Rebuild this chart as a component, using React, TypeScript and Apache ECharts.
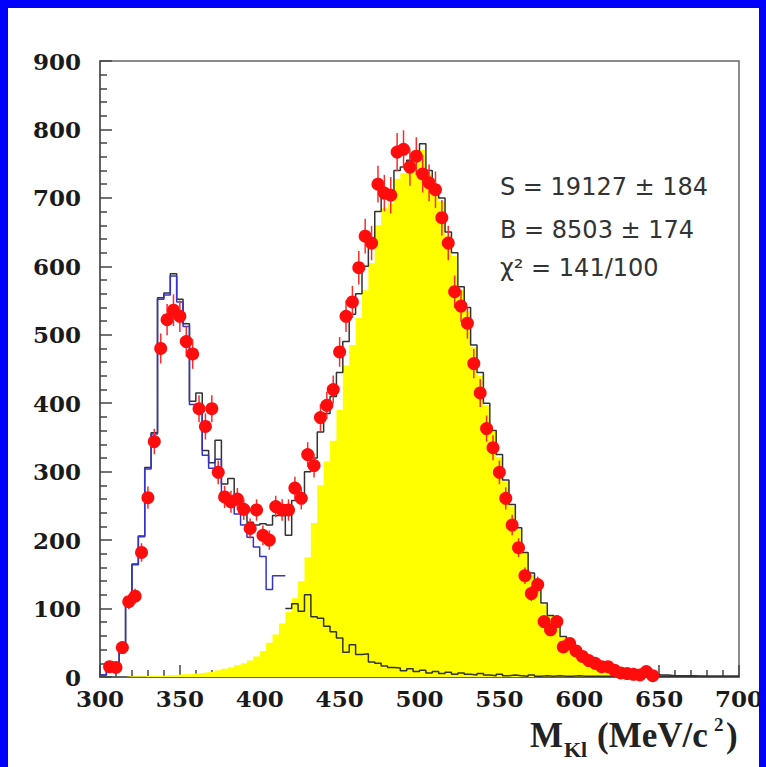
import React, { useEffect, useRef } from "react";
import * as echarts from "echarts";

// Binning of the invariant-mass histograms (MeV/c^2)
const BIN_WIDTH = 4;
const MASS_MIN = 300;
const MASS_MAX = 700;
const FIRST_POINT_CENTER = 306;
const BLUE_BINS = 29; // background drawn in blue up to 416 MeV/c^2

// Fitted signal component (filled), one value per 4 MeV bin from 300 to 700
const signal = [
  0, 0, 0, 0, 1, 1, 1, 2, 2, 2,
  3, 3, 4, 4, 5, 6, 7, 8, 10, 12,
  14, 17, 20, 24, 30, 38, 50, 62, 78, 95,
  115, 140, 175, 225, 280, 315, 345, 390, 455, 485,
  525, 565, 605, 660, 685, 692, 728, 736, 744, 752,
  770, 734, 710, 695, 645, 615, 565, 535, 482, 440,
  397, 358, 321, 286, 249, 216, 181, 149, 127, 106,
  89, 73, 58, 49, 39, 33, 27, 21, 17, 14,
  11, 8, 6, 5, 4, 3, 3, 2, 2, 1,
  1, 1, 1, 1, 0, 0, 0, 0, 0, 0,
];

// Background component
const background = [
  3, 12, 14, 43, 104, 164, 205, 304, 355, 552,
  558, 586, 548, 512, 398, 392, 324, 305, 318, 270,
  262, 238, 222, 204, 190, 176, 128, 148, 148, 100,
  107, 96, 120, 88, 86, 74, 66, 57, 36, 47,
  33, 34, 22, 20, 16, 14, 13, 9, 12, 8,
  10, 6, 8, 5, 7, 4, 6, 4, 3, 5,
  3, 2, 4, 2, 3, 2, 1, 3, 1, 2,
  1, 2, 1, 1, 2, 1, 1, 1, 1, 1,
  1, 1, 1, 1, 1, 1, 1, 1, 1, 1,
  1, 1, 1, 1, 1, 1, 1, 1, 1, 1,
];

// Total fit (signal + background)
const total = [
  3, 12, 14, 43, 105, 165, 206, 306, 357, 554,
  561, 589, 552, 516, 403, 415, 331, 313, 346, 282,
  290, 262, 240, 226, 222, 224, 222, 236, 236, 207,
  258, 262, 300, 320, 358, 385, 410, 445, 490, 530,
  560, 600, 630, 680, 700, 705, 740, 745, 755, 760,
  779, 740, 718, 700, 650, 620, 570, 540, 485, 445,
  400, 360, 325, 288, 252, 218, 182, 152, 128, 108,
  90, 74, 59, 50, 40, 34, 28, 22, 18, 15,
  12, 9, 7, 6, 5, 4, 4, 3, 3, 2,
  2, 2, 2, 1, 1, 1, 1, 1, 1, 1,
];

// Measured events per bin, bin centres from 306 MeV/c^2 upward
const dataCounts = [
  15, 14, 43, 110, 118, 182, 262, 344, 480, 522,
  536, 527, 490, 472, 392, 366, 392, 299, 263, 256,
  260, 245, 217, 244, 207, 200, 249, 244, 244, 276,
  261, 325, 309, 379, 397, 420, 475, 527, 548, 598,
  644, 634, 720, 707, 704, 767, 771, 745, 761, 735,
  722, 712, 671, 634, 563, 542, 517, 458, 415, 363,
  335, 299, 261, 222, 189, 148, 122, 135, 81, 69,
  81, 44, 49, 38, 30, 24, 20, 15, 15, 10,
  6, 5, 4, 3, 8, 2,
];

const yTickValues = [0, 100, 200, 300, 400, 500, 600, 700, 800, 900];
const fitLines = ["S = 19127 \u00b1 184", "B = 8503 \u00b1 174", "\u03c7\u00b2 = 141/100"];

// Turns per-bin contents into step-line vertices (left edge of each bin + closing edge)
function histogramSteps(values: number[], firstEdge: number): number[][] {
  const pts = values.map((v, i) => [firstEdge + i * BIN_WIDTH, v]);
  pts.push([firstEdge + values.length * BIN_WIDTH, values[values.length - 1]]);
  return pts;
}

const points = dataCounts.map((v, i) => [FIRST_POINT_CENTER + i * BIN_WIDTH, v]);

export default function App() {
  const ref = useRef<HTMLDivElement>(null);

  useEffect(() => {
    if (!ref.current) return;
    const chart = echarts.init(ref.current, undefined, { renderer: "svg" });

    const tickStyle = { color: "#444", width: 1.5 };
    const labelFont = {
      color: "#1a1a1a",
      fontFamily: "DejaVu Serif",
      fontWeight: "bold" as const,
      fontSize: 23,
    };
    const titleFont = (size: number) => `bold ${size}px "Liberation Serif"`;

    chart.setOption({
      animation: false,
      backgroundColor: "#ffffff",
      grid: {
        left: 100,
        top: 61,
        right: 26,
        bottom: 90,
        show: true,
        borderColor: "#666",
        borderWidth: 1.5,
        backgroundColor: "transparent",
      },
      xAxis: {
        type: "value",
        min: MASS_MIN,
        max: MASS_MAX,
        interval: 50,
        axisLine: { lineStyle: { color: "#555", width: 1.5 } },
        axisTick: { inside: true, length: 12, lineStyle: tickStyle },
        minorTick: { show: true, splitNumber: 5, length: 7, lineStyle: tickStyle },
        splitLine: { show: false },
        minorSplitLine: { show: false },
        axisLabel: { ...labelFont, margin: 10, showMinLabel: true, showMaxLabel: true },
      },
      yAxis: {
        type: "value",
        min: yTickValues[0],
        max: yTickValues[yTickValues.length - 1],
        interval: 100,
        axisLine: { show: true, lineStyle: { color: "#555", width: 1.5 } },
        axisTick: { inside: true, length: 12, lineStyle: tickStyle },
        minorTick: { show: true, splitNumber: 5, length: 7, lineStyle: tickStyle },
        splitLine: { show: false },
        minorSplitLine: { show: false },
        axisLabel: { ...labelFont, margin: 19 },
      },
      series: [
        {
          name: "signal",
          type: "line",
          step: "end",
          data: histogramSteps(signal, MASS_MIN),
          symbol: "none",
          lineStyle: { width: 0, opacity: 0 },
          areaStyle: { color: "#ffff00", opacity: 1 },
          z: 1,
          silent: true,
        },
        {
          name: "total",
          type: "line",
          step: "end",
          data: histogramSteps(total, MASS_MIN),
          symbol: "none",
          lineStyle: { color: "#333", width: 1.5 },
          z: 3,
          silent: true,
        },
        {
          name: "background low",
          type: "line",
          step: "end",
          data: histogramSteps(background.slice(0, BLUE_BINS), MASS_MIN),
          symbol: "none",
          lineStyle: { color: "#3434c8", width: 1.5 },
          z: 4,
          silent: true,
        },
        {
          name: "background high",
          type: "line",
          step: "end",
          data: histogramSteps(background.slice(BLUE_BINS), MASS_MIN + BLUE_BINS * BIN_WIDTH),
          symbol: "none",
          lineStyle: { color: "#333", width: 1.5 },
          z: 4,
          silent: true,
        },
        {
          name: "data",
          type: "custom",
          data: points,
          encode: { x: 0, y: 1 },
          z: 6,
          silent: true,
          renderItem: (_params: any, api: any) => {
            const x = api.value(0);
            const y = api.value(1);
            const err = Math.sqrt(y);
            const c = api.coord([x, y]);
            const top = api.coord([x, y + err]);
            const bot = api.coord([x, Math.max(0, y - err)]);
            return {
              type: "group",
              children: [
                {
                  type: "line",
                  shape: { x1: c[0], y1: top[1], x2: c[0], y2: bot[1] },
                  style: { stroke: "#ff2a2a", lineWidth: 1.5 },
                },
                {
                  type: "circle",
                  shape: { cx: c[0], cy: c[1], r: 6.5 },
                  style: { fill: "#ff0d0d" },
                },
              ],
            };
          },
        },
      ],
      graphic: [
        { type: "rect", left: 0, top: 0, shape: { width: 766, height: 8 }, style: { fill: "#0000ff" }, z: 10 },
        { type: "rect", left: 0, top: 0, shape: { width: 8, height: 767 }, style: { fill: "#0000ff" }, z: 10 },
        { type: "rect", left: 759, top: 0, shape: { width: 7, height: 767 }, style: { fill: "#0000ff" }, z: 10 },
        ...fitLines.map((t, i) => ({
          type: "text",
          x: 500,
          y: [187, 230, 268][i],
          style: {
            text: t,
            font: '24px "DejaVu Sans"',
            fill: "#333",
            align: "left",
            verticalAlign: "middle",
          },
          z: 10,
        })),
        {
          type: "text",
          x: 530,
          y: 735,
          style: { text: "M", font: titleFont(35), fill: "#222", align: "left", verticalAlign: "middle" },
          z: 10,
        },
        {
          type: "text",
          x: 564,
          y: 749,
          style: { text: "Kl", font: titleFont(22), fill: "#222", align: "left", verticalAlign: "middle" },
          z: 10,
        },
        {
          type: "text",
          x: 597,
          y: 735,
          style: { text: "(MeV/c", font: titleFont(35), fill: "#222", align: "left", verticalAlign: "middle" },
          z: 10,
        },
        {
          type: "text",
          x: 714,
          y: 724,
          style: { text: "2", font: titleFont(19), fill: "#222", align: "left", verticalAlign: "middle" },
          z: 10,
        },
        {
          type: "text",
          x: 726,
          y: 735,
          style: { text: ")", font: titleFont(35), fill: "#222", align: "left", verticalAlign: "middle" },
          z: 10,
        },
      ],
    });

    return () => chart.dispose();
  }, []);

  return (
    <div
      ref={ref}
      style={{ position: "fixed", left: 0, top: 0, width: 766, height: 767 }}
    />
  );
}
